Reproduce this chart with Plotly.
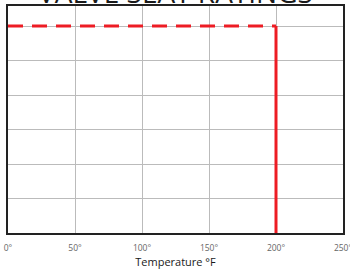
import plotly.graph_objects as go

# Data
rating_temp = [0, 200, 200]      # °F
rating_level = [6, 6, 0]         # relative rating (grid units)
x_ticks = [0, 50, 100, 150, 200, 250]
x_tick_labels = ["0°", "50°", "100°", "150°", "200°", "250°"]
title_text = "VALVE SEAT RATINGS"
x_title = "Temperature °F"

RED = "#ED1C24"

fig = go.Figure()
# dashed horizontal segment
fig.add_trace(go.Scatter(x=rating_temp[:2], y=rating_level[:2], mode="lines",
                         line=dict(color=RED, width=3, dash="15px,9px"),
                         hoverinfo="skip", showlegend=False))
# solid vertical segment
fig.add_trace(go.Scatter(x=rating_temp[1:], y=rating_level[1:], mode="lines",
                         line=dict(color=RED, width=3),
                         hoverinfo="skip", showlegend=False))

fig.update_layout(
    width=350, height=271,
    margin=dict(l=8, r=7, t=6, b=38, autoexpand=False),
    paper_bgcolor="white", plot_bgcolor="white",
    font=dict(family="Open Sans, sans-serif"),
    showlegend=False,
    xaxis=dict(range=[0, 250], tickvals=x_ticks, ticktext=x_tick_labels,
               showgrid=True, gridcolor="#BBBBBB", gridwidth=1,
               showline=True, linecolor="#222222", linewidth=1.5, mirror=True,
               zeroline=False, ticks="", tickfont=dict(size=8.5, color="#666666"),
               ticklabelstandoff=6, ticklabeloverflow="allow",
               title=dict(text=x_title, font=dict(size=11, color="#1a1a1a"), standoff=6),
               automargin=False, fixedrange=True),
    yaxis=dict(range=[0, 6.58], dtick=1, showticklabels=False,
               showgrid=True, gridcolor="#BBBBBB", gridwidth=1,
               showline=True, linecolor="#222222", linewidth=1.5, mirror=True,
               zeroline=False, ticks="", automargin=False, fixedrange=True),
)

fig.add_annotation(text=title_text, xref="paper", yref="paper", x=0.5, y=1,
                   xanchor="center", yanchor="bottom", yshift=-7, showarrow=False,
                   font=dict(size=28, color="#1a1a1a", family="Open Sans, sans-serif"))

fig.write_html("out.html", config={"displayModeBar": False},
               post_script=["document.body.style.margin='0';document.body.style.overflow='hidden';"])
